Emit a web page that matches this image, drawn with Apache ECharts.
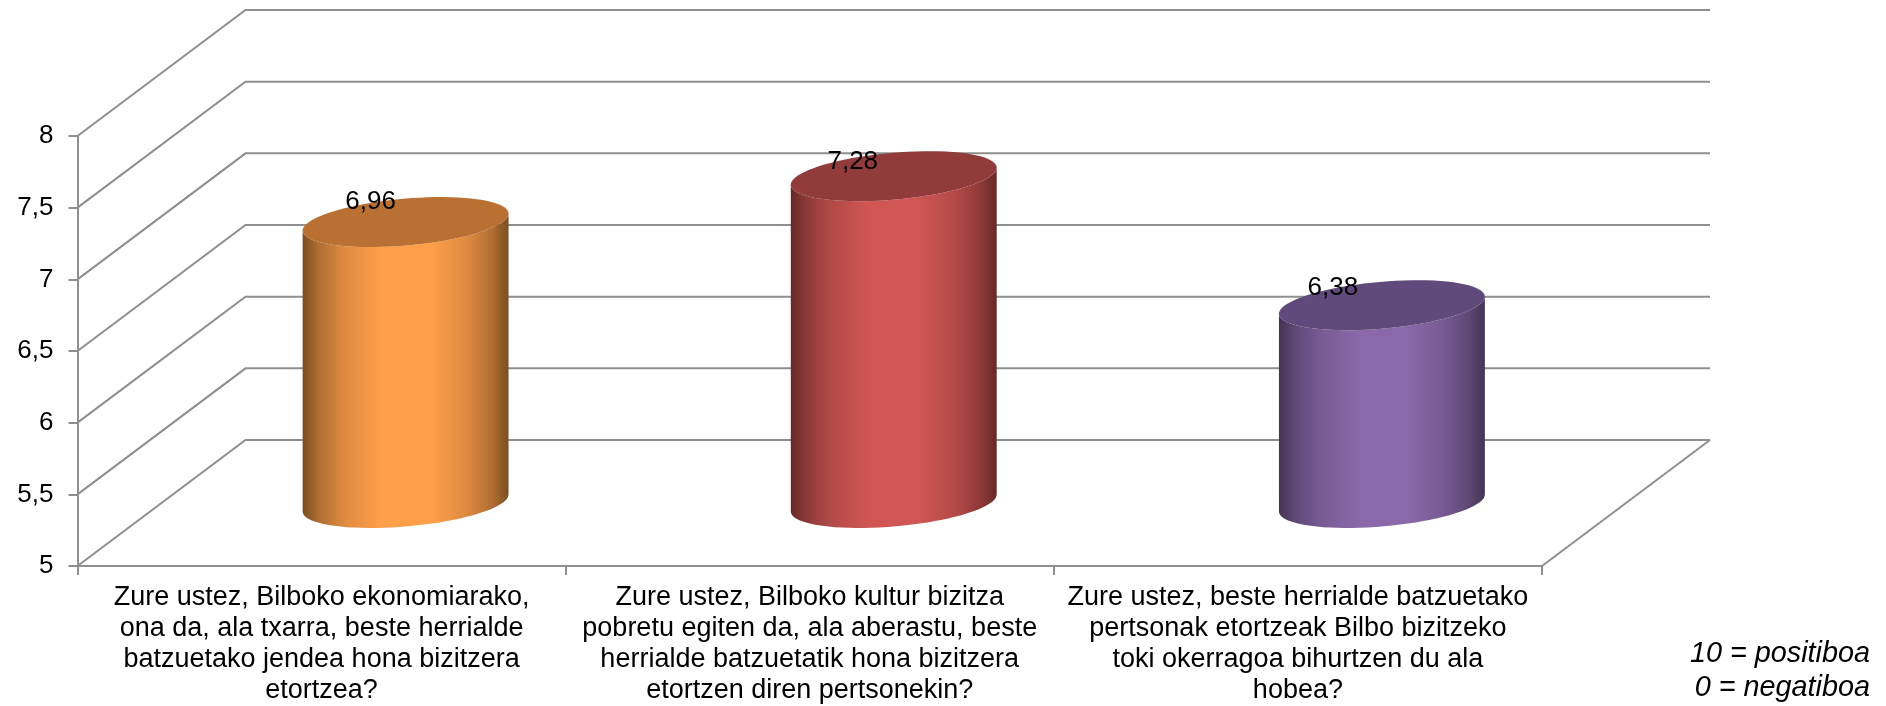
<!DOCTYPE html>
<html>
<head>
<meta charset="utf-8">
<style>
  html, body { margin: 0; padding: 0; background: #fff; }
  #chart { width: 1886px; height: 706px; }
</style>
<script src="https://cdn.jsdelivr.net/npm/echarts@6/dist/echarts.min.js"></script>
</head>
<body>
<div id="chart"></div>
<script>
const categories = [
  'Zure ustez, Bilboko ekonomiarako,\nona da, ala txarra, beste herrialde\nbatzuetako jendea hona bizitzera\netortzea?',
  'Zure ustez, Bilboko kultur bizitza\npobretu egiten da, ala aberastu, beste\nherrialde batzuetatik hona bizitzera\netortzen diren pertsonekin?',
  'Zure ustez, beste herrialde batzuetako\npertsonak etortzeak Bilbo bizitzeko\ntoki okerragoa bihurtzen du ala\nhobea?'
]
const values = [6.96, 7.28, 6.38]
const valueLabels = ['6,96', '7,28', '6,38']
const yTicks = [5, 5.5, 6, 6.5, 7, 7.5, 8]

const topColors = ['#bb7033', '#923b3b', '#604a7b']
const edgeColors = ['#7b4e20', '#672828', '#443455']
const shade1Colors = ['#b06e33', '#8e3a39', '#5f4875']
const shade2Colors = ['#de8a40', '#b34a48', '#775a93']
const centerColors = ['#ff9f4a', '#cf5654', '#8a68aa']

// depth of the fake 3D box, in pixels
const depthX = 168
const depthY = -126
const gridColor = '#8f8f8f'

// the labels were hand placed in the original, each sits a bit differently
const labelShiftX = [-35, -41, -49]
const labelShiftY = [-20, -14, -17]

// tilted ellipse outline, from angle a to angle b
const ellipsePoints = (cx, cy, rx, ry, tilt, a, b, steps) => {
  const pts = []
  for (let i = 0; i <= steps; i++) {
    const t = a + (b - a) * i / steps
    const ex = rx * Math.cos(t)
    const ey = ry * Math.sin(t)
    pts.push([
      cx + ex * Math.cos(tilt) - ey * Math.sin(tilt),
      cy + ex * Math.sin(tilt) + ey * Math.cos(tilt)
    ])
  }
  return pts
}

const renderWall = (params, api) => {
  const sys = params.coordSys
  const y = api.coord([0, api.value(0)])[1]
  const left = sys.x
  const right = sys.x + sys.width
  const children = [{
    type: 'polyline',
    shape: { points: [[left, y], [left + depthX, y + depthY], [right + depthX, y + depthY]] },
    style: { stroke: gridColor, lineWidth: 2, fill: null }
  }]
  if (api.value(0) === yTicks[0]) {
    children.push({
      type: 'line',
      shape: { x1: right, y1: y, x2: right + depthX, y2: y + depthY },
      style: { stroke: gridColor, lineWidth: 2 }
    })
  }
  return { type: 'group', children }
}

const renderCylinder = (params, api) => {
  const i = params.dataIndex
  const top = api.coord([i, api.value(1)])
  const base = api.coord([i, yTicks[0]])
  const band = api.size([1, 0])[0]
  const rx = band * 0.2117
  const ry = 23.4
  const tilt = -5 * Math.PI / 180
  const cx = top[0] + depthX / 2
  const topY = top[1] + depthY / 2
  const baseY = base[1] + depthY / 2

  const lower = ellipsePoints(cx, baseY, rx, ry, tilt, 0, Math.PI, 40)
  const upper = ellipsePoints(cx, topY, rx, ry, tilt, Math.PI, 0, 40)

  return {
    type: 'group',
    children: [
      {
        type: 'polygon',
        shape: { points: lower.concat(upper) },
        style: {
          fill: new echarts.graphic.LinearGradient(0, 0, 1, 0, [
            { offset: 0, color: edgeColors[i] },
            { offset: 0.08, color: shade1Colors[i] },
            { offset: 0.2, color: shade2Colors[i] },
            { offset: 0.38, color: centerColors[i] },
            { offset: 0.62, color: centerColors[i] },
            { offset: 0.8, color: shade2Colors[i] },
            { offset: 0.92, color: shade1Colors[i] },
            { offset: 1, color: edgeColors[i] }
          ])
        }
      },
      {
        type: 'polygon',
        shape: { points: ellipsePoints(cx, topY, rx, ry, tilt, 0, Math.PI * 2, 80) },
        style: { fill: topColors[i] }
      },
      {
        type: 'text',
        style: {
          x: cx + labelShiftX[i],
          y: topY + labelShiftY[i],
          text: valueLabels[i],
          fill: '#000',
          font: '26px "Liberation Sans"',
          textAlign: 'center',
          textVerticalAlign: 'middle'
        }
      }
    ]
  }
}

const chart = echarts.init(document.getElementById('chart'), null, { renderer: 'canvas' })

chart.setOption({
  animation: false,
  backgroundColor: '#fff',
  grid: { left: 77.5, right: 344, top: 136, bottom: 135.5, containLabel: false },
  xAxis: {
    type: 'category',
    data: categories,
    axisLine: { lineStyle: { color: gridColor, width: 2 } },
    axisTick: { show: true, alignWithLabel: false, length: 9, lineStyle: { color: gridColor, width: 2 } },
    axisLabel: {
      interval: 0,
      margin: 16,
      color: '#000',
      fontFamily: 'Liberation Sans',
      fontSize: 27,
      lineHeight: 31,
      align: 'center'
    }
  },
  yAxis: {
    type: 'value',
    min: 5,
    max: 8,
    interval: 0.5,
    splitLine: { show: false },
    axisLine: { show: true, lineStyle: { color: gridColor, width: 2 } },
    axisTick: { show: true, length: 9, lineStyle: { color: gridColor, width: 2 } },
    axisLabel: {
      margin: 24,
      color: '#000',
      fontFamily: 'Liberation Sans',
      fontSize: 26,
      formatter: v => String(v).replace('.', ',')
    }
  },
  series: [
    {
      type: 'custom',
      name: 'walls',
      clip: false,
      silent: true,
      z: 1,
      renderItem: renderWall,
      encode: { y: 0 },
      data: yTicks.map(v => [v])
    },
    {
      type: 'custom',
      name: 'cylinders',
      clip: false,
      z: 3,
      renderItem: renderCylinder,
      encode: { x: 0, y: 1 },
      data: values.map((v, i) => [i, v])
    }
  ],
  graphic: [
    {
      type: 'text',
      right: 16,
      top: 637,
      style: {
        text: '10 = positiboa\n0 = negatiboa',
        fill: '#000',
        font: 'italic 28.8px "Liberation Sans"',
        textAlign: 'right',
        lineHeight: 34
      }
    }
  ]
})

window.addEventListener('resize', () => chart.resize())
</script>
</body>
</html>
